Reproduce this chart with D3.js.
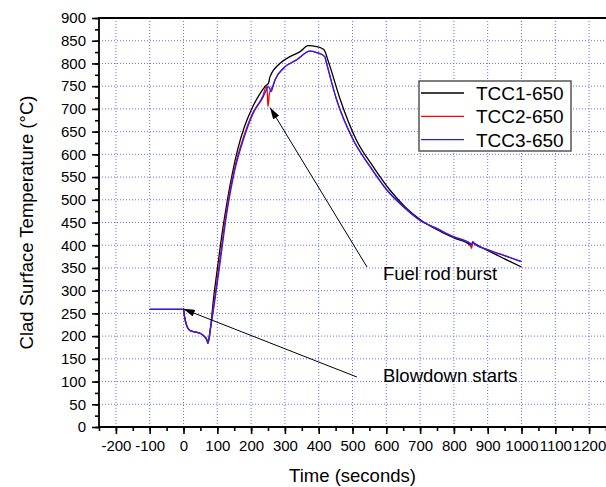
<!DOCTYPE html>
<html>
<head>
<meta charset="utf-8">
<script src="https://cdn.jsdelivr.net/npm/d3@7"></script>
<style>
  body { margin: 0; background: #fff; }
  svg { display: block; font-family: "Liberation Sans", Arial, sans-serif; }
</style>
</head>
<body>
<svg id="chart" width="606" height="487"></svg>
<script>
// Series data (time in s, temperature in °C)
const tcc1Time = [-100, 0, 3, 10, 18, 30, 47, 62, 70, 72, 79, 90, 100, 115, 130, 145, 160, 180, 200, 226, 245, 249, 252, 256, 285, 315, 345, 369, 394, 414, 420, 426, 434, 464, 511, 561, 610, 655, 703, 750, 800, 848, 852, 856, 860, 901, 950, 1000];
const tcc1Temp = [259, 259, 243, 222, 213, 210, 207, 199, 190, 184, 213, 290, 347, 430, 500, 560, 610, 660, 697, 733, 752, 754, 758, 771, 800, 815, 826, 839, 837, 831, 824, 810, 792, 720, 632, 573, 522, 485, 455, 434, 416, 400, 397, 406, 404, 388, 370, 352];

const tcc2Time = [-100, 0, 3, 10, 18, 30, 47, 62, 70, 72, 79, 86, 106, 126, 150, 175, 204, 234, 246, 248, 250, 254, 260, 265, 271, 295, 335, 374, 394, 418, 422, 453, 502, 552, 601, 650, 699, 749, 798, 848, 852, 856, 860, 901, 950, 1000];
const tcc2Temp = [259, 259, 243, 222, 213, 210, 207, 199, 190, 184, 213, 250, 360, 470, 566, 632, 690, 727, 750, 735, 705, 733, 745, 752, 764, 789, 808, 827, 824, 815, 804, 720, 632, 573, 522, 485, 455, 437, 419, 404, 393, 408, 403, 390, 377, 364];

const tcc3Time = [-100, 0, 3, 10, 18, 30, 47, 62, 70, 72, 79, 87, 108, 128, 152, 177, 206, 236, 246, 251, 255, 259, 265, 271, 295, 335, 374, 394, 418, 422, 453, 502, 552, 601, 650, 699, 749, 798, 848, 852, 856, 860, 901, 950, 1000];
const tcc3Temp = [259, 259, 243, 222, 213, 210, 207, 199, 190, 184, 213, 250, 360, 470, 566, 632, 690, 727, 743, 749, 745, 738, 750, 764, 789, 808, 827, 824, 815, 804, 720, 632, 573, 522, 485, 455, 437, 419, 404, 402, 408, 403, 390, 377, 364];

const seriesNames = ['TCC1-650', 'TCC2-650', 'TCC3-650'];
const seriesColors = ['#000000', '#ff0000', '#2020ff'];

const xTicks = [-200, -100, 0, 100, 200, 300, 400, 500, 600, 700, 800, 900, 1000, 1100, 1200];
const yTicks = [0, 50, 100, 150, 200, 250, 300, 350, 400, 450, 500, 550, 600, 650, 700, 750, 800, 850, 900];

const svg = d3.select('#chart');

const x = d3.scaleLinear().domain([-250, 1250]).range([99, 606]);
const y = d3.scaleLinear().domain([0, 900]).range([427, 18]);

// Dotted grid at major ticks
const grid = svg.append('g');
grid.selectAll('line.gx')
    .data(xTicks)
    .enter()
    .append('line')
    .attr('x1', d => x(d)).attr('x2', d => x(d))
    .attr('y1', y(0)).attr('y2', y(900))
    .attr('stroke', '#6c6cf4')
    .attr('stroke-width', 1)
    .attr('stroke-dasharray', '1,2');
grid.selectAll('line.gy')
    .data(yTicks.filter(d => d > 0 && d < 900))
    .enter()
    .append('line')
    .attr('x1', x(-250)).attr('x2', x(1250))
    .attr('y1', d => y(d)).attr('y2', d => y(d))
    .attr('stroke', '#6c6cf4')
    .attr('stroke-width', 1)
    .attr('stroke-dasharray', '1,2');

// Curves
const line = d3.line().x(d => x(d[0])).y(d => y(d[1])).curve(d3.curveMonotoneX);
const series = [
    d3.zip(tcc1Time, tcc1Temp),
    d3.zip(tcc2Time, tcc2Temp),
    d3.zip(tcc3Time, tcc3Temp)
];
series.forEach((pts, i) => {
    svg.append('path')
        .datum(pts)
        .attr('d', line)
        .attr('fill', 'none')
        .attr('stroke', seriesColors[i])
        .attr('stroke-width', 1.3)
        .attr('stroke-linejoin', 'round');
});

// Axes
const xAxis = d3.axisBottom(x).tickValues(xTicks).tickSize(7).tickPadding(6).tickFormat(d => String(d));
const xMinor = d3.axisBottom(x).tickValues(d3.range(-250, 1251, 50)).tickSize(4).tickFormat('');
const yAxis = d3.axisLeft(y).tickValues(yTicks).tickSize(7).tickPadding(6).tickFormat(d => String(d));
const yMinor = d3.axisLeft(y).tickValues(d3.range(0, 901, 25)).tickSize(4).tickFormat('');

function styleAxis(g) {
    g.select('.domain').remove();
    g.selectAll('line').attr('stroke', '#000').attr('stroke-width', 1.6);
    g.selectAll('text').attr('font-size', 15).attr('fill', '#000').attr('font-family', '"Liberation Sans", Arial, sans-serif');
}

svg.append('g').attr('transform', `translate(0,${y(0)})`).call(xMinor).call(styleAxis);
svg.append('g').attr('transform', `translate(0,${y(0)})`).call(xAxis).call(styleAxis);
svg.append('g').attr('transform', `translate(${x(-250)},0)`).call(yMinor).call(styleAxis);
svg.append('g').attr('transform', `translate(${x(-250)},0)`).call(yAxis).call(styleAxis);

// Frame (left, bottom, top)
svg.append('path')
    .attr('d', `M${x(1250)},${y(900)}H${x(-250)}V${y(0)}H${x(1250)}`)
    .attr('fill', 'none')
    .attr('stroke', '#000')
    .attr('stroke-width', 1.8);

// Axis titles
svg.append('text')
    .attr('x', (x(-250) + x(1250)) / 2)
    .attr('y', 482)
    .attr('text-anchor', 'middle')
    .attr('font-size', 18.5)
    .text('Time (seconds)');
svg.append('text')
    .attr('transform', `translate(33,${(y(0) + y(900)) / 2}) rotate(-90)`)
    .attr('text-anchor', 'middle')
    .attr('font-size', 18.5)
    .text('Clad Surface Temperature (°C)');

// Annotations
svg.append('defs').append('marker')
    .attr('id', 'arrow')
    .attr('viewBox', '0 0 10 6')
    .attr('refX', 10).attr('refY', 3)
    .attr('markerWidth', 12).attr('markerHeight', 7)
    .attr('markerUnits', 'userSpaceOnUse')
    .attr('orient', 'auto')
    .append('path')
    .attr('d', 'M0,0L10,3L0,6Z')
    .attr('fill', '#000');

const arrowFrom = [[543, 352], [513, 110]];
const arrowTo = [[256, 703], [-1, 260]];
const noteText = ['Fuel rod burst', 'Blowdown starts'];
const notePos = [[590, 323], [590, 99]];

arrowFrom.forEach((p, i) => {
    svg.append('line')
        .attr('x1', x(p[0])).attr('y1', y(p[1]))
        .attr('x2', x(arrowTo[i][0])).attr('y2', y(arrowTo[i][1]))
        .attr('stroke', '#000')
        .attr('stroke-width', 1)
        .attr('marker-end', 'url(#arrow)');
    svg.append('text')
        .attr('x', x(notePos[i][0]))
        .attr('y', y(notePos[i][1]))
        .attr('font-size', 18.5)
        .text(noteText[i]);
});

// Legend
const legend = svg.append('g').attr('transform', 'translate(419,81)');
legend.append('rect')
    .attr('width', 152).attr('height', 70)
    .attr('fill', '#fff')
    .attr('stroke', '#555')
    .attr('stroke-width', 1.5);
seriesNames.forEach((name, i) => {
    const yy = 12 + i * 23.3;
    legend.append('line')
        .attr('x1', 2).attr('x2', 45)
        .attr('y1', yy).attr('y2', yy)
        .attr('stroke', seriesColors[i])
        .attr('stroke-width', 1.3);
    legend.append('text')
        .attr('x', 57).attr('y', yy + 7)
        .attr('font-size', 19)
        .text(name);
});
</script>
</body>
</html>
